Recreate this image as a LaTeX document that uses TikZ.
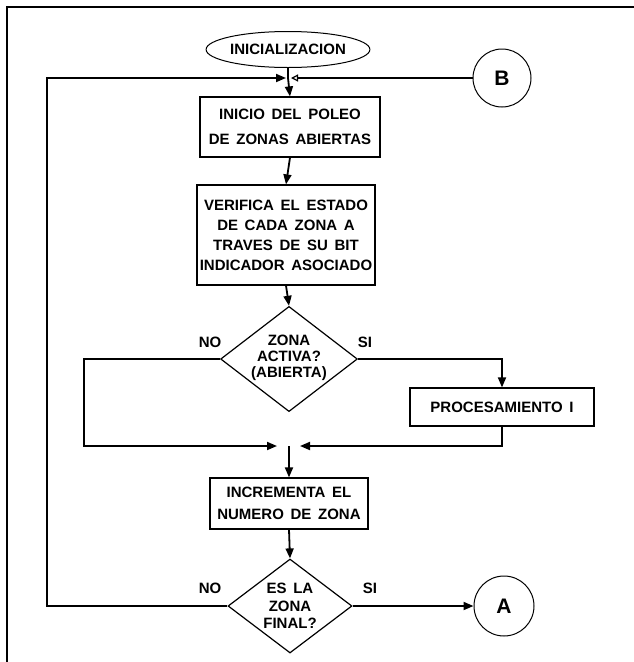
\documentclass[tikz,border=0pt]{standalone}
\usepackage{fontspec}
\setmainfont{Liberation Sans}[WordSpace=1.6]
\usetikzlibrary{arrows.meta,shapes.geometric}
\tikzset{
  lbl/.style={font=\bfseries\fontsize{15}{20}\selectfont, align=center, inner sep=0pt},
  procbox/.style={lbl, draw, line width=1.2pt},
  decbox/.style={lbl, draw, line width=1.2pt, shape=diamond, aspect=1.3,
     font=\bfseries\fontsize{15}{17.5}\selectfont},
  connbox/.style={lbl, draw, line width=1pt, shape=circle, font=\bfseries\fontsize{21}{21}\selectfont},
  termbox/.style={lbl, draw, line width=1pt, shape=ellipse},
  conn/.style={line width=1.8pt},
  arr/.style={conn, -{Triangle[length=10pt,width=8pt]}},
  oarr/.style={conn, -{Triangle[open,length=7pt,width=7pt,line width=1.2pt]}},
  framel/.style={line width=1.8pt}
}
\begin{document}
\begin{tikzpicture}[x=1pt,y=-1pt]
\useasboundingbox (0,0) rectangle (633,662);
\draw[framel] (7,680) -- (7,7) -- (650,7);

\node[termbox, minimum width=161pt, minimum height=36pt] (init) at (288,49.5) {INICIALIZACION};
\node[procbox, minimum width=180pt, minimum height=60pt] (b1) at (290,127) {INICIO DEL POLEO\\[5pt]DE ZONAS ABIERTAS};
\node[procbox, minimum width=178pt, minimum height=100pt] (b2) at (286,235) {VERIFICA EL ESTADO\\DE CADA ZONA A\\TRAVES DE SU BIT\\INDICADOR ASOCIADO};
\node[decbox, minimum width=124pt, minimum height=94pt] (d1) at (289,359) {\raisebox{5pt}{\shortstack{ZONA\\[2pt]ACTIVA?\\[2pt](ABIERTA)}}};
\node[procbox, minimum width=184pt, minimum height=38pt] (proc) at (502,407) {PROCESAMIENTO I};
\node[procbox, minimum width=158pt, minimum height=51pt] (b3) at (289,503.5) {INCREMENTA EL\\[2pt]NUMERO DE ZONA};
\node[decbox, minimum width=124pt, minimum height=94pt] (d2) at (290,606) {ES LA\\ZONA\\FINAL?};
\node[connbox, minimum size=58pt] (B) at (502,78) {B};
\node[connbox, minimum size=60pt] (A) at (504,606) {A};

\node[lbl] (no1) at (210,342) {NO};
\node[lbl] (si1) at (365,342) {SI};
\node[lbl] (no2) at (210,588) {NO};
\node[lbl] (si2) at (370,588) {SI};

\coordinate (jtop) at (288,78);
\coordinate (jmid) at (289,446);
\coordinate (xNO1) at (84,0);
\coordinate (xNO2) at (47,0);

% main column
\draw[conn] (init.south) -- (jtop);
\draw[arr] (jtop) -- (b1.north);
\draw[arr] (b1.south) -- (b2.north);
\draw[arr] (b2.south) -- (d1.north);
\draw[arr] (jmid) -- (b3.north);
\draw[arr] (b3.south) -- (d2.north);
\draw[arr] (d2.east) -- (A.west);

% loop back
\draw[arr, shorten >=2pt] (d2.west) -- (d2.west -| xNO2) |- (jtop);
\draw[oarr, shorten >=3pt] (B.west) -- (jtop);

% decision 1 branches
\draw[arr] (d1.east) -| (proc.north);
\draw[arr, shorten >=12pt] (d1.west) -- (d1.west -| xNO1) |- (jmid);
\draw[arr, shorten >=11pt] (proc.south) |- (jmid);
\end{tikzpicture}
\end{document}
